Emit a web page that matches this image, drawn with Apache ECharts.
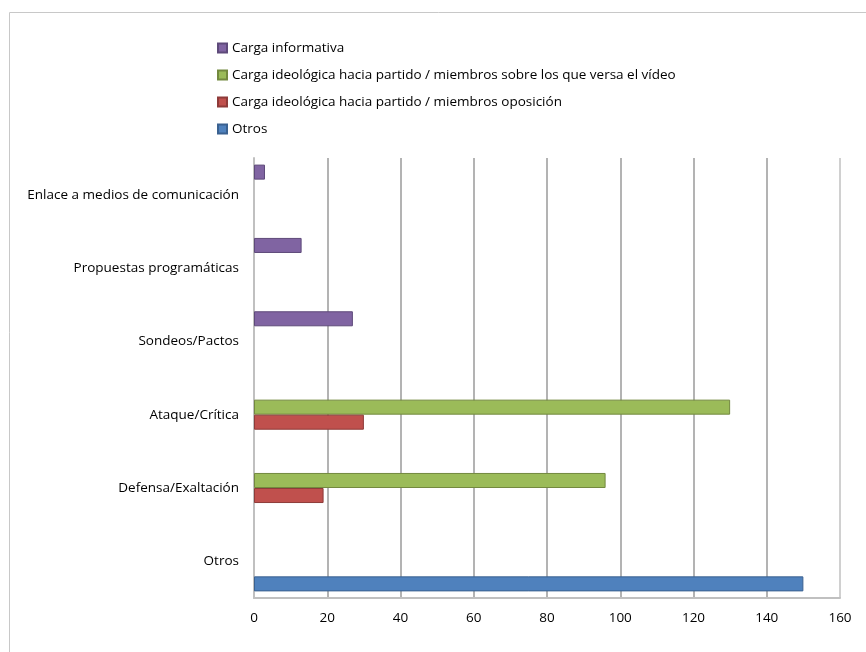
<!DOCTYPE html>
<html>
<head>
<meta charset="utf-8">
<script src="https://cdn.jsdelivr.net/npm/echarts@6/dist/echarts.min.js"></script>
<style>html,body{margin:0;padding:0;background:#fff}#c{width:866px;height:652px}</style>
</head>
<body>
<div id="c"></div>
<script>
const categories = ['Otros', 'Defensa/Exaltación', 'Ataque/Crítica', 'Sondeos/Pactos', 'Propuestas programáticas', 'Enlace a medios de comunicación'];
const seriesNames = ['Carga informativa', 'Carga ideológica hacia partido / miembros sobre los que versa el vídeo', 'Carga ideológica hacia partido / miembros oposición', 'Otros'];
const informativa = [null, null, null, 27, 13, 3];
const ideologicaSobre = [null, 96, 130, null, null, null];
const ideologicaOposicion = [null, 19, 30, null, null, null];
const otros = [150, null, null, null, null, null];
const xTicks = [0, 20, 40, 60, 80, 100, 120, 140, 160];

const colors = ['#8064A2', '#9BBB59', '#C0504D', '#4F81BD'];
const borders = ['#5E4A7A', '#73893F', '#8E3B39', '#3A6190'];
const values = [informativa, ideologicaSobre, ideologicaOposicion, otros];
const font = '"Open Sans", Lato, sans-serif';

const chart = echarts.init(document.getElementById('c'), null, {renderer: 'canvas'});
chart.setOption({
  animation: false,
  color: colors,
  graphic: [{
    type: 'rect', left: 7, top: 10, z: -1,
    shape: {width: 900, height: 700},
    style: {fill: 'none', stroke: '#c8c8c8', lineWidth: 1}
  }],
  legend: {
    orient: 'vertical', left: 212, top: 36,
    data: seriesNames,
    icon: 'rect', itemWidth: 9, itemHeight: 9, itemGap: 13,
    textStyle: {fontFamily: font, fontSize: 13.5, color: '#000', lineHeight: 14},
    selectedMode: false
  },
  grid: {left: 254, right: 26, top: 158, bottom: 54, containLabel: false},
  xAxis: {
    type: 'value', min: xTicks[0], max: xTicks[xTicks.length - 1], interval: 20,
    axisLine: {show: true, lineStyle: {color: '#c0c0c0', width: 2}},
    axisTick: {show: false},
    axisLabel: {fontFamily: font, fontSize: 13.5, color: '#000', margin: 13},
    splitLine: {show: true, lineStyle: {color: ['#c0c0c0','#9a9a9a','#9a9a9a','#9a9a9a','#9a9a9a','#9a9a9a','#9a9a9a','#9a9a9a','#c0c0c0'], width: 1.5}}
  },
  yAxis: {
    type: 'category', data: categories,
    axisLine: {show: true, lineStyle: {color: '#c0c0c0', width: 2}},
    axisTick: {show: false},
    axisLabel: {fontFamily: font, fontSize: 13.5, color: '#000', margin: 15}
  },
  series: seriesNames.map((n, i) => ({
    name: n, type: 'bar', data: values[i],
    barGap: '0%', barCategoryGap: '18%',
    itemStyle: {color: colors[i], borderColor: borders[i], borderWidth: 1}
  }))
});
</script>
</body>
</html>
